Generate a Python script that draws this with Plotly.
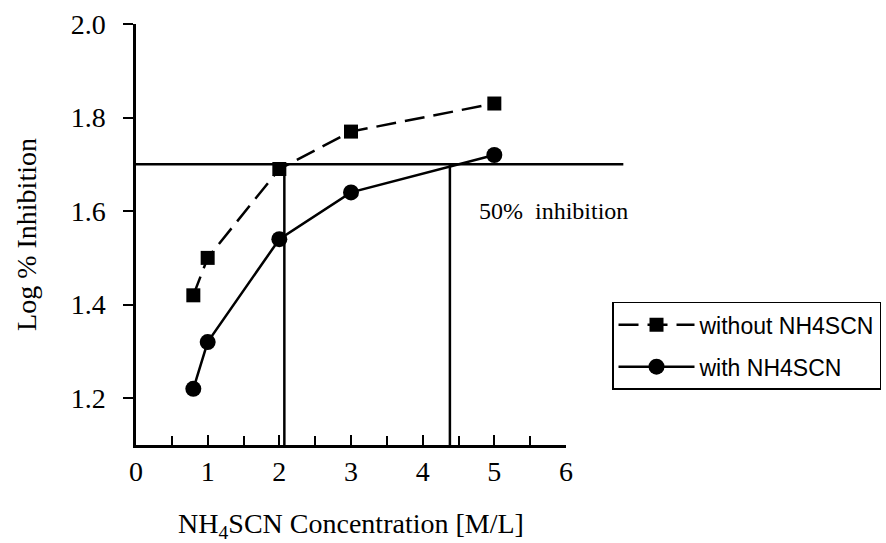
import plotly.graph_objects as go

# NH4SCN concentration [M/L]
conc = [0.8, 1, 2, 3, 5]
# log % inhibition
log_inh_without = [1.42, 1.50, 1.69, 1.77, 1.83]
log_inh_with = [1.22, 1.32, 1.54, 1.64, 1.72]

series_names = ["without NH4SCN", "with NH4SCN"]

# 50 % inhibition level (log 50 ≈ 1.7) and the concentrations where each curve crosses it
half_level = 1.7
half_conc = [2.07, 4.38]

x_ticks = [0, 1, 2, 3, 4, 5, 6]
y_ticks = [1.2, 1.4, 1.6, 1.8, 2.0]
x_range = [0, 6]
y_range = [1.1, 2.0]
level_line_end = 6.8  # horizontal guide runs past the axis end

serif = "Liberation Serif, Times New Roman, serif"
sans = "Liberation Sans, Arial, sans-serif"

fig = go.Figure()

fig.add_trace(go.Scatter(
    x=conc, y=log_inh_without, name=series_names[0],
    mode="lines+markers",
    line=dict(color="black", width=2.5, dash="20px,9px"),
    marker=dict(symbol="square", size=14, color="black"),
    legendgroup="a",
))
fig.add_trace(go.Scatter(
    x=conc, y=log_inh_with, name=series_names[1],
    mode="lines+markers",
    line=dict(color="black", width=2.5),
    marker=dict(symbol="circle", size=16, color="black"),
    legendgroup="b",
))

# horizontal 50% line
fig.add_shape(type="line", xref="paper", yref="y",
              x0=0, x1=level_line_end / x_range[1], y0=half_level, y1=half_level,
              line=dict(color="black", width=2.5), layer="below")
# vertical drops to the concentration axis
for xc in half_conc:
    fig.add_shape(type="line", xref="x", yref="y",
                  x0=xc, x1=xc, y0=y_range[0], y1=half_level,
                  line=dict(color="black", width=2.5), layer="below")

fig.add_annotation(x=5.82, y=1.60, xref="x", yref="y",
                   text="50%  inhibition", showarrow=False,
                   font=dict(family=serif, size=24, color="black"))

fig.update_xaxes(
    range=x_range, tickvals=x_ticks, ticks="inside", ticklen=10, tickwidth=1.5,
    tickcolor="black", showline=True, linecolor="black", linewidth=2.5,
    showgrid=False, zeroline=False,
    minor=dict(ticks="inside", dtick=0.5, ticklen=9, tickwidth=1.5, tickcolor="black"),
    tickfont=dict(family=serif, size=28, color="black"),
    ticklabelstandoff=0,
    title=dict(text="NH<sub>4</sub>SCN Concentration [M/L]",
               font=dict(family=serif, size=28, color="black"), standoff=28),
)
fig.update_yaxes(
    range=y_range, tickvals=y_ticks, tickformat=".1f", ticks="outside", ticklen=10,
    tickwidth=1.5, tickcolor="black", showline=True, linecolor="black", linewidth=2.5,
    showgrid=False, zeroline=False,
    tickfont=dict(family=serif, size=28, color="black"),
    ticklabelstandoff=12,
    title=dict(text="Log % Inhibition",
               font=dict(family=serif, size=28, color="black"), standoff=26),
)

fig.update_layout(
    width=886, height=543,
    margin=dict(l=136, r=320, t=24, b=98, autoexpand=False),
    paper_bgcolor="white", plot_bgcolor="white",
    showlegend=True,
    legend=dict(x=1.107, y=0.34, xanchor="left", yanchor="top",
                bordercolor="black", borderwidth=1.5, bgcolor="white",
                font=dict(family=sans, size=23, color="black"),
                itemwidth=76, tracegroupgap=9),
)

fig.write_html("out.html")
